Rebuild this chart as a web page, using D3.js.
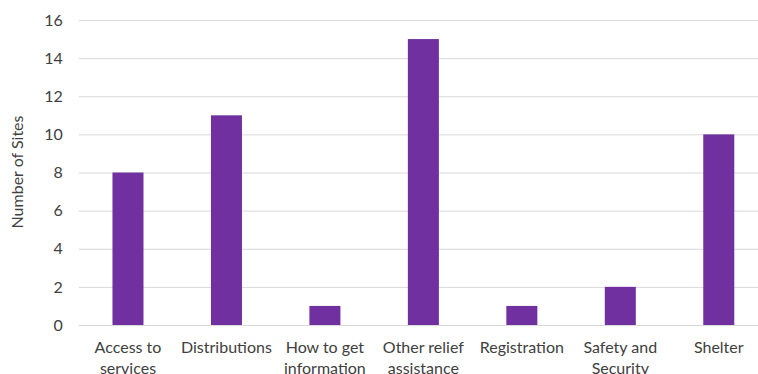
<!DOCTYPE html>
<html>
<head>
<meta charset="utf-8">
<script src="https://cdn.jsdelivr.net/npm/d3@7"></script>
<style>
html,body{margin:0;padding:0;background:#fff;overflow:hidden;}
svg{display:block;}
text{font-family:Lato,"Open Sans",sans-serif;fill:#404040;}
</style>
</head>
<body>
<svg id="chart" width="758" height="374"></svg>
<script>
const categories = [["Access to","services"],["Distributions"],["How to get","information"],["Other relief","assistance"],["Registration"],["Safety and","Security"],["Shelter"]];
const values = [8, 11, 1, 15, 1, 2, 10];
const yTicks = [0, 2, 4, 6, 8, 10, 12, 14, 16];
const yTitle = "Number of Sites";

(function() {
const svg = d3.select("#chart");
const pLeft = 78.75, pRight = 768, pTop = 20, pBottom = 325;
const names = categories.map(c => c.join(" "));
const x = d3.scaleBand().domain(names).range([pLeft, pRight]).paddingInner(0.685).paddingOuter(0.3425);
const y = d3.scaleLinear().domain([0, 16]).range([pBottom, pTop]);

const yAxis = d3.axisLeft(y).tickValues(yTicks).tickSize(-(pRight - pLeft)).tickPadding(16);
const gy = svg.append("g").attr("transform", `translate(${pLeft},0)`).call(yAxis);
gy.select(".domain").remove();
gy.selectAll(".tick line").attr("stroke", "#d9d9d9").attr("stroke-width", 1);
gy.selectAll(".tick text").attr("font-size", 16).attr("fill", "#404040").attr("x", -16).attr("font-family", "Lato");

svg.append("g").selectAll("rect").data(values).join("rect")
  .attr("x", (d, i) => x(names[i]))
  .attr("y", d => y(d))
  .attr("width", x.bandwidth())
  .attr("height", d => y(0) - y(d))
  .attr("fill", "#7030a0");

const xl = svg.append("g").selectAll("text").data(categories).join("text")
  .attr("x", (d, i) => x(names[i]) + x.bandwidth() / 2)
  .attr("y", 353)
  .attr("text-anchor", "middle")
  .attr("font-size", 16);
xl.each(function(d) {
  const t = d3.select(this);
  d.forEach((line, j) => {
    t.append("tspan").attr("x", t.attr("x")).attr("dy", j === 0 ? 0 : 21).text(line);
  });
});

svg.append("text")
  .attr("transform", `translate(23,172) rotate(-90)`)
  .attr("text-anchor", "middle")
  .attr("font-size", 16)
  .text(yTitle);
})();
</script>
</body>
</html>
